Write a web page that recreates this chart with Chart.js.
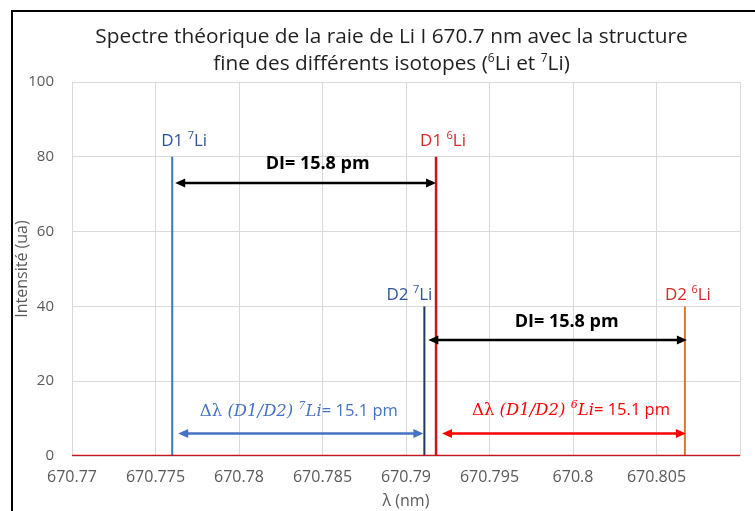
<!DOCTYPE html>
<html>
<head>
<meta charset="utf-8">
<script src="https://cdn.jsdelivr.net/npm/chart.js@4.4.1/dist/chart.umd.min.js"></script>
<style>
  html, body { margin: 0; padding: 0; background: #fff; }
  #wrap { position: relative; width: 755px; height: 511px; overflow: hidden; }
  #frame { position: absolute; left: 11px; top: 10px; width: 900px; height: 700px;
           border-left: 2px solid #000; border-top: 2px solid #000; }
  #title { position: absolute; left: 28px; width: 727px; top: 22px; text-align: center;
           font-family: 'Open Sans', sans-serif; font-size: 20.8px; line-height: 27px; color: #1f1f1f; }
  #title sup { font-size: 12px; line-height: 0; vertical-align: 0; position: relative; top: -8px; }
  canvas { position: absolute; left: 0; top: 0; }
</style>
</head>
<body>
<div id="wrap">
  <div id="frame"></div>
  <canvas id="chart" width="755" height="511"></canvas>
  <div id="title">Spectre théorique de la raie de Li I 670.7 nm avec la structure<br>fine des différents isotopes (<sup>6</sup>Li et <sup>7</sup>Li)</div>
</div>
<script>
// Axis ranges
const X_MIN = 670.77;
const X_MAX = 670.81;
const X_STEP = 0.005;
const Y_MIN = 0;
const Y_MAX = 100;
const Y_STEP = 20;

// Spectral lines: D1/D2 of 7Li and 6Li (nm, intensity ua)
const lineIsotopes = ['7', '7', '6', '6'];
const lineNames    = ['D1', 'D2', 'D1', 'D2'];
const lineCenters  = [670.7760, 670.7911, 670.7918, 670.8067];
const lineIntens   = [80, 40, 80, 40];

// Annotations: arrows between lines (indices into the arrays above) and their text
const arrowFrom  = [0, 1, 0, 2];
const arrowTo    = [2, 3, 1, 3];
const arrowY     = [73, 31, 6, 6];
const arrowTexts = ['DI= 15.8 pm', 'DI= 15.8 pm', '15.1 pm', '15.1 pm'];

// Styles
const SANS = "'Open Sans', sans-serif";
const SERIF = "'DejaVu Serif', serif";
const LINE_COLORS  = ['#3a78c0', '#1f3864', '#c8141c', '#e0742c'];
const LABEL_COLORS = ['#2f5597', '#2f5597', '#d42a2a', '#d42a2a'];
const LABEL_OFFS   = [[12, -16], [-15, -11], [7, -16], [3, -11]];
const ARROW_STYLE = [
  { color: '#000000', inset: [3, 0],  text: [12, -19] },
  { color: '#000000', inset: [4, 2],  text: [9, -18] },
  { color: '#4472c4', inset: [6, -1], text: [-2, -22] },
  { color: '#ff0000', inset: [6, 1],  text: [7, -23] },
];
const GRID = '#d9d9d9';
const TICK = '#595959';

// draw text made of parts (some superscript / other fonts), centred at cx, cy
function richText(ctx, parts, cx, cy, size, color) {
  const fontOf = (p) => {
    const s = p.sup ? Math.round(size * 0.65) : size;
    return (p.italic ? 'italic ' : '') + (p.bold ? 'bold ' : '') + s + 'px ' + (p.family || SANS);
  };
  let w = 0;
  parts.forEach(p => { ctx.font = fontOf(p); p.w = ctx.measureText(p.t).width; w += p.w; });
  let x = cx - w / 2;
  ctx.fillStyle = color;
  ctx.textBaseline = 'middle';
  ctx.textAlign = 'left';
  parts.forEach(p => {
    ctx.font = fontOf(p);
    ctx.fillText(p.t, x, p.sup ? cy - size * 0.3 : cy);
    x += p.w;
  });
}

function drawArrow(ctx, x1, x2, y, color) {
  const head = 10, half = 4.5;
  ctx.save();
  ctx.strokeStyle = color;
  ctx.fillStyle = color;
  ctx.lineWidth = 2.5;
  ctx.beginPath();
  ctx.moveTo(x1 + head - 1, y);
  ctx.lineTo(x2 - head + 1, y);
  ctx.stroke();
  ctx.beginPath();
  ctx.moveTo(x1, y); ctx.lineTo(x1 + head, y - half); ctx.lineTo(x1 + head, y + half); ctx.closePath();
  ctx.fill();
  ctx.beginPath();
  ctx.moveTo(x2, y); ctx.lineTo(x2 - head, y - half); ctx.lineTo(x2 - head, y + half); ctx.closePath();
  ctx.fill();
  ctx.restore();
}

const annotations = {
  id: 'annotations',
  afterDatasetsDraw(chart) {
    const { ctx, scales: { x, y } } = chart;
    ctx.save();
    // line labels
    lineCenters.forEach((c, i) => {
      const px = x.getPixelForValue(c) + LABEL_OFFS[i][0];
      const py = y.getPixelForValue(lineIntens[i]) + LABEL_OFFS[i][1];
      richText(ctx, [{ t: lineNames[i] + ' ' }, { t: lineIsotopes[i], sup: true }, { t: 'Li' }], px, py, 17, LABEL_COLORS[i]);
    });
    // arrows
    arrowFrom.forEach((f, i) => {
      const st = ARROW_STYLE[i];
      const x1 = x.getPixelForValue(lineCenters[f]) + st.inset[0];
      const x2 = x.getPixelForValue(lineCenters[arrowTo[i]]) + st.inset[1];
      const py = y.getPixelForValue(arrowY[i]);
      drawArrow(ctx, x1, x2, py, st.color);
      const tx = (x1 + x2) / 2 + st.text[0];
      const ty = py + st.text[1];
      if (i < 2) {
        richText(ctx, [{ t: arrowTexts[i], bold: true }], tx, ty, 18, '#000000');
      } else {
        const iso = lineIsotopes[f];
        richText(ctx, [
          { t: 'Δλ ', family: SERIF },
          { t: '(D1/D2) ', family: SERIF, italic: true },
          { t: iso, sup: true, family: SERIF, italic: true },
          { t: 'Li', family: SERIF, italic: true },
          { t: '= ' + arrowTexts[i] },
        ], tx, ty, 16.5, st.color);
      }
    });
    ctx.restore();
  }
};

const datasets = lineCenters.map((c, i) => ({
  label: lineNames[i] + ' ' + lineIsotopes[i] + 'Li',
  data: i === 2
    ? [{ x: X_MIN, y: 0 }, { x: c, y: 0 }, { x: c, y: lineIntens[i] }, { x: c, y: 0 }, { x: X_MAX, y: 0 }]
    : [{ x: c, y: 0 }, { x: c, y: lineIntens[i] }],
  borderColor: LINE_COLORS[i],
  borderWidth: i === 2 ? 2.5 : 2,
  pointRadius: 0,
  tension: 0,
  order: i === 2 ? 0 : 1,
}));

new Chart(document.getElementById('chart'), {
  type: 'line',
  data: { datasets },
  plugins: [annotations],
  options: {
    responsive: false,
    animation: false,
    layout: { padding: { top: 82, right: 15, left: 4, bottom: 0 } },
    plugins: {
      legend: { display: false },
      tooltip: { enabled: false },
    },
    scales: {
      x: {
        type: 'linear',
        min: X_MIN,
        max: X_MAX,
        afterFit: (scale) => { scale.height = 55; },
        ticks: {
          stepSize: X_STEP,
          color: TICK,
          font: { family: SANS, size: 16 },
          padding: 12,
          maxRotation: 0,
          autoSkip: false,
          callback: (v) => Math.abs(v - X_MAX) < 1e-6 ? '' : String(Number(v.toFixed(3))),
        },
        grid: { color: GRID, drawTicks: false },
        border: { display: false },
        title: {
          display: true,
          text: 'λ (nm)',
          color: TICK,
          font: { family: SANS, size: 16 },
          padding: { top: 0, bottom: 0 },
        },
      },
      y: {
        min: Y_MIN,
        max: Y_MAX,
        afterFit: (scale) => { scale.width = 68; },
        ticks: {
          stepSize: Y_STEP,
          color: TICK,
          font: { family: SANS, size: 15 },
          padding: 18,
        },
        grid: { color: GRID, drawTicks: false },
        border: { display: false },
        title: {
          display: true,
          text: 'Intensité (ua)',
          color: TICK,
          font: { family: SANS, size: 16 },
          padding: { top: 9, bottom: 0 },
        },
      },
    },
  },
});
</script>
</body>
</html>
